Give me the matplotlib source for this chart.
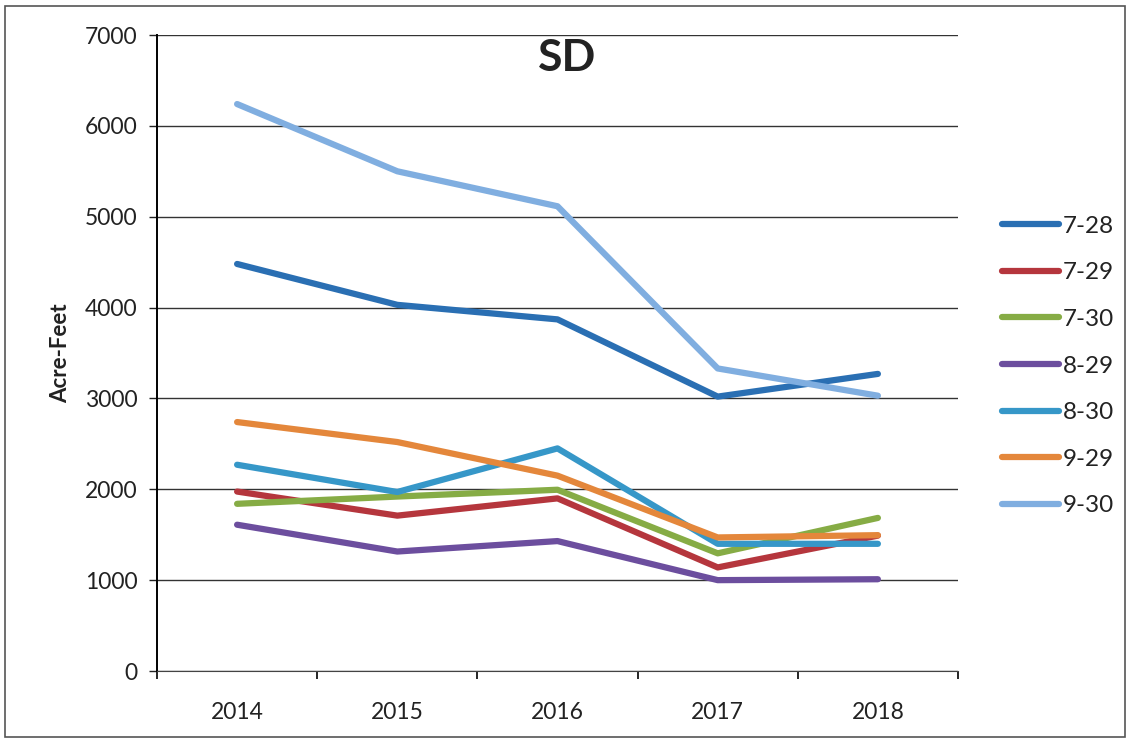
import matplotlib
matplotlib.use("Agg")
import matplotlib.pyplot as plt
from matplotlib.patches import Rectangle

plt.rcParams['font.family'] = ['Lato', 'DejaVu Sans']

years = ['2014', '2015', '2016', '2017', '2018']

s_7_28 = [4480, 4030, 3870, 3020, 3270]
s_7_29 = [1975, 1710, 1900, 1140, 1490]
s_7_30 = [1840, 1920, 1995, 1295, 1685]
s_8_29 = [1610, 1315, 1430, 1000, 1010]
s_8_30 = [2270, 1970, 2450, 1400, 1400]
s_9_29 = [2740, 2520, 2150, 1470, 1495]
s_9_30 = [6240, 5500, 5115, 3330, 3030]

labels = ['7-28', '7-29', '7-30', '8-29', '8-30', '9-29', '9-30']
series = [s_7_28, s_7_29, s_7_30, s_8_29, s_8_30, s_9_29, s_9_30]
colors = ['#2A6FB3', '#B5363D', '#86AC45', '#6C4E9E', '#3697C8', '#E4873B', '#80AEE0']

fig = plt.figure(figsize=(11.31, 7.38), dpi=100)
ax = fig.add_axes([157 / 1131, 1 - 671 / 738, (958 - 157) / 1131, (671 - 35) / 738])

x = list(range(len(years)))
for lab, vals, c in zip(labels, series, colors):
    ax.plot(x, vals, color=c, lw=4.5, label=lab, solid_capstyle='round')

ax.set_xlim(-0.5, len(years) - 0.5)
ax.set_ylim(0, 7000)
ax.set_yticks(range(0, 7001, 1000))
ax.set_xticks(x)
ax.set_xticklabels(years)
ax.set_xticks([i - 0.5 for i in range(len(years) + 1)], minor=True)
ax.tick_params(axis='x', which='major', length=0, labelsize=16.5, pad=22, colors='#222222')
ax.tick_params(axis='x', which='minor', length=6, width=1.2, direction='out')
ax.tick_params(axis='y', length=6, width=1.0, labelsize=16.5, pad=8, colors='#222222')
ax.grid(axis='y', color='#333333', lw=1.0)
ax.set_axisbelow(True)
for side in ['top', 'right']:
    ax.spines[side].set_visible(False)
ax.spines['left'].set_linewidth(1.4)
ax.spines['bottom'].set_color('#444444')

ax.set_ylabel('Acre-Feet', fontsize=16, fontweight='bold', labelpad=10, color='#222222')
fig.text(567 / 1131, 1 - 58 / 738, 'SD', fontsize=32, fontweight='bold', ha='center', va='center',
         color='#222222')

leg = ax.legend(loc='center left', bbox_to_anchor=(980 / 1131, 1 - 366 / 738), bbox_transform=fig.transFigure,
                frameon=False, fontsize=17.5, handlelength=2.35, handletextpad=0.15, labelspacing=1.05)
for t in leg.get_texts():
    t.set_color('#222222')

fig.patches.append(Rectangle((5 / 1131, 0.002), 1120 / 1131, 1 - 6 / 738 - 0.002, transform=fig.transFigure,
                             fill=False, edgecolor='#555555', lw=1.2))

fig.savefig('out.png', dpi=100)
